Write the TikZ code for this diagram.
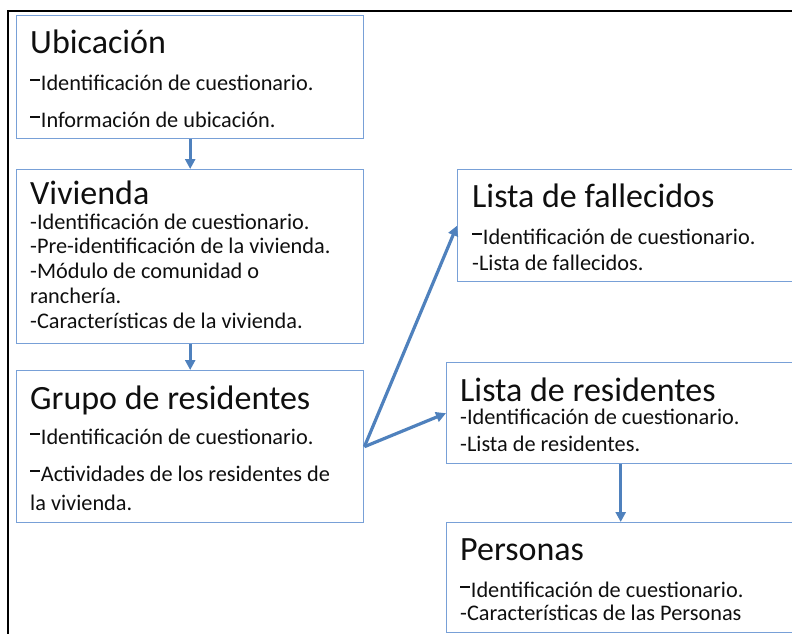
\documentclass[tikz,border=0pt]{standalone}
\usepackage{fontspec}
\setmainfont{Carlito}
\usetikzlibrary{arrows.meta}
\definecolor{boxblue}{RGB}{120,160,215}
\definecolor{arrblue}{RGB}{79,129,189}
\definecolor{txt}{RGB}{15,15,15}
\newcommand\rdash{\rule[0.40em]{0.42em}{0.11em}\hspace{0.06em}}
\begin{document}
\begin{tikzpicture}[x=1pt,y=-1pt,
  box/.style={draw=boxblue,line width=1.4pt,anchor=north west,inner sep=0pt},
  ttl/.style={anchor=base west,font=\fontsize{34}{36}\selectfont,text=txt,inner sep=0pt},
  bd/.style={anchor=base west,font=\fontsize{22.3}{24}\selectfont,text=txt,inner sep=0pt},
  arr/.style={draw=arrblue,line width=3.2pt,-{Triangle[length=10pt,width=10pt]}}]
\useasboundingbox (0,0) rectangle (792,634);
% outer frame
\coordinate (fbl) at (8,640);
\coordinate (ftl) at (8,11);
\coordinate (ftr) at (800,11);
\draw[line width=2.2pt] (fbl) -- (ftl) -- (ftr);
% boxes
\node[box,minimum width=347pt,minimum height=123pt] (ubi) at (16,15) {};
\node[box,minimum width=347pt,minimum height=174pt] (viv) at (16,169) {};
\node[box,minimum width=347pt,minimum height=152pt] (grp) at (16,370) {};
\node[box,minimum width=337pt,minimum height=112pt] (fal) at (457,169) {};
\node[box,minimum width=348pt,minimum height=101pt] (res) at (446,362) {};
\node[box,minimum width=348pt,minimum height=110pt] (per) at (446,522) {};
% texts: Ubicacion
\node[ttl] (ubiT) at (30,54) {Ubicación};
\node[bd] (ubi1) at (30,90) {\rdash Identificación de cuestionario.};
\node[bd] (ubi2) at (30,127) {\rdash Información de ubicación.};
% Vivienda
\node[ttl] (vivT) at (30,204) {Vivienda};
\node[bd] (viv1) at (30,229) {-Identificación de cuestionario.};
\node[bd] (viv2) at (30,253) {-Pre-identificación de la vivienda.};
\node[bd] (viv3) at (30,278) {-Módulo de comunidad o};
\node[bd] (viv4) at (30,303) {ranchería.};
\node[bd] (viv5) at (30,328) {-Características de la vivienda.};
% Grupo de residentes
\node[ttl] (grpT) at (30,409) {Grupo de residentes};
\node[bd] (grp1) at (30,444) {\rdash Identificación de cuestionario.};
\node[bd] (grp2) at (30,481) {\rdash Actividades de los residentes de};
\node[bd] (grp3) at (30,510) {la vivienda.};
% Lista de fallecidos
\node[ttl] (falT) at (472,207) {Lista de fallecidos};
\node[bd] (fal1) at (472,244) {\rdash Identificación de cuestionario.};
\node[bd] (fal2) at (472,270) {-Lista de fallecidos.};
% Lista de residentes
\node[ttl] (resT) at (460,401) {Lista de residentes};
\node[bd] (res1) at (460,424) {-Identificación de cuestionario.};
\node[bd] (res2) at (460,451) {-Lista de residentes.};
% Personas
\node[ttl] (perT) at (460,560) {Personas};
\node[bd] (per1) at (460,597) {\rdash Identificación de cuestionario.};
\node[bd] (per2) at (460,620) {-Características de las Personas};
% connectors
\draw[arr] (ubi.south) -- (viv.north);
\draw[arr] (viv.south) -- (grp.north);
\draw[arr] (grp.east) -- (fal.west);
\draw[arr] (grp.east) -- (res.west);
\draw[arr] (res.south) -- (per.north);
\end{tikzpicture}
\end{document}
